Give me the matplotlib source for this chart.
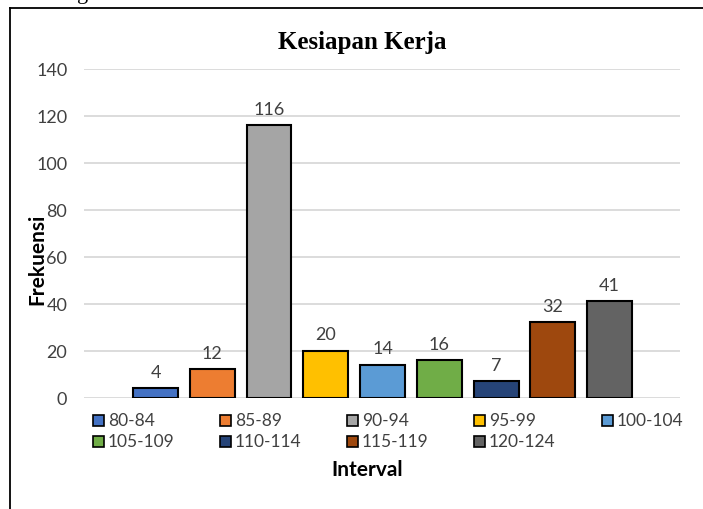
import numpy as np
import matplotlib
matplotlib.use('Agg')
import matplotlib.pyplot as plt
from matplotlib.lines import Line2D
from matplotlib.patches import Rectangle

intervals = ['80-84', '85-89', '90-94', '95-99', '100-104',
             '105-109', '110-114', '115-119', '120-124']
frekuensi = [4, 12, 116, 20, 14, 16, 7, 32, 41]
colors = ['#4472C4', '#ED7D31', '#A5A5A5', '#FFC000', '#5B9BD5',
          '#70AD47', '#264478', '#9E480E', '#636363']
y_ticks = [0, 20, 40, 60, 80, 100, 120, 140]

W, H = 703, 510
fig = plt.figure(figsize=(W / 100, H / 100), dpi=100)
ax = fig.add_axes([84 / W, 1 - 398.5 / H, 596 / W, 328.5 / H])

x = np.arange(len(frekuensi))
ax.bar(x, frekuensi, width=0.79, color=colors,
       edgecolor='black', linewidth=1.5, zorder=3)

for xi, v in zip(x, frekuensi):
    ax.annotate(str(v), (xi, v), xytext=(0, 6), textcoords='offset points',
                ha='center', va='bottom', fontsize=13, color='#404040',
                family='Lato')

ax.set_xlim(-1.26, 9.24)
ax.set_ylim(0, 140)
ax.set_yticks(y_ticks)
ax.set_xticks([])
ax.yaxis.grid(True, color='#D9D9D9', linewidth=1.3, zorder=0)
for s in ax.spines.values():
    s.set_visible(False)
ax.tick_params(axis='y', length=0, pad=12, labelsize=13, labelcolor='#404040')
for lbl in ax.get_yticklabels():
    lbl.set_family('Lato')

fig.text(362 / W, 1 - 42 / H, 'Kesiapan Kerja', ha='center', va='center',
         fontsize=18, fontweight='bold', family='Liberation Serif')
fig.text(37 / W, 1 - 259 / H, 'Frekuensi', rotation=90, ha='center',
         va='center', fontsize=15, fontweight='bold', family='Lato')
fig.text(367 / W, 1 - 470 / H, 'Interval', ha='center', va='center',
         fontsize=15, fontweight='bold', family='Lato')

# legend, Excel style: 5 columns filled row by row
col_x = [93, 220, 347, 474, 602]
row_y = [421, 442]
for i, (lab, c) in enumerate(zip(intervals, colors)):
    px = col_x[i % 5]
    py = row_y[i // 5]
    fig.add_artist(Rectangle((px / W, 1 - (py + 5.5) / H), 11 / W, 11 / H,
                             facecolor=c, edgecolor='black', linewidth=1.2,
                             transform=fig.transFigure))
    fig.text((px + 15) / W, 1 - py / H, lab, ha='left', va='center',
             fontsize=12.5, color='#404040', family='Lato')

# page frame and cut-off text above
fig.add_artist(Line2D([10 / W, 1], [1 - 9 / H, 1 - 9 / H], color='black',
                      linewidth=1.3, transform=fig.transFigure))
fig.add_artist(Line2D([10 / W, 10 / W], [0, 1 - 9 / H], color='black',
                      linewidth=1.3, transform=fig.transFigure))
fig.text(77 / W, 1 + 1.5 / H, 'g', ha='left', va='baseline', fontsize=16,
         family='Liberation Serif')

fig.savefig('out.png', dpi=100)
